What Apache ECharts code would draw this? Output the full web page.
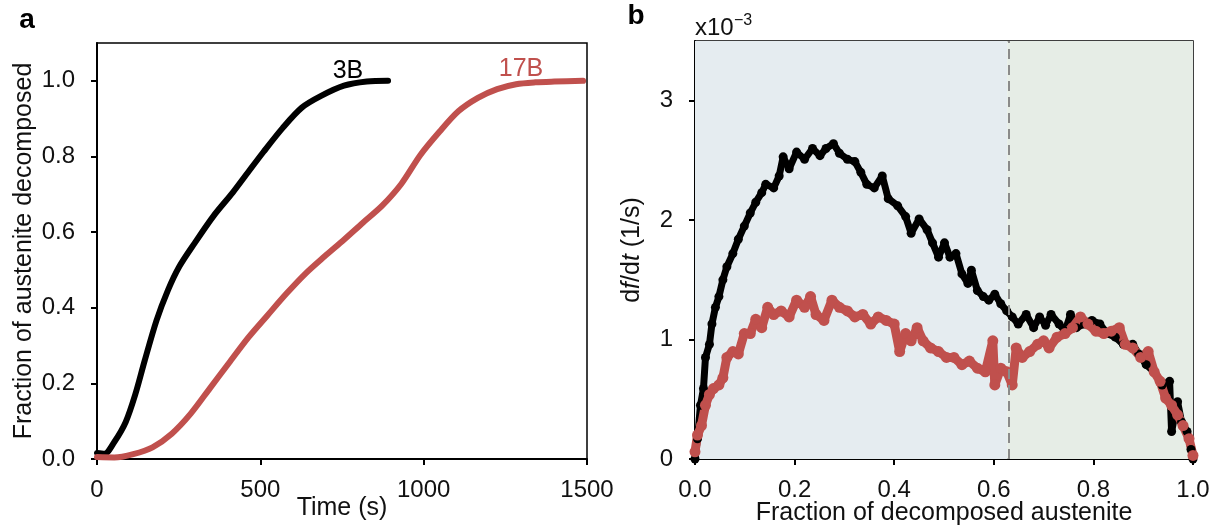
<!DOCTYPE html>
<html>
<head>
<meta charset="utf-8">
<script src="https://cdn.jsdelivr.net/npm/echarts@6/dist/echarts.min.js"></script>
<style>
  html, body { margin: 0; padding: 0; background: #fff; }
  #chart { width: 1219px; height: 529px; }
</style>
</head>
<body>
<div id="chart"></div>
<script>
// panel a: fraction of austenite decomposed vs time
const time3B = [0, 23, 53, 88, 117, 146, 182, 217, 252, 299, 357, 416, 463, 510, 568, 627, 686, 756, 826, 891];
const frac3B = [0.016, 0.014, 0.045, 0.098, 0.17, 0.26, 0.366, 0.446, 0.509, 0.571, 0.643, 0.705, 0.759, 0.8125, 0.875, 0.929, 0.96, 0.987, 0.998, 1.0];
const time17B = [0, 53, 111, 170, 229, 287, 346, 404, 463, 521, 580, 639, 697, 756, 814, 873, 932, 990, 1049, 1107, 1166, 1225, 1283, 1342, 1400, 1488];
const frac17B = [0.005, 0.004, 0.013, 0.031, 0.067, 0.12, 0.1875, 0.254, 0.321, 0.379, 0.4375, 0.491, 0.536, 0.58, 0.625, 0.67, 0.728, 0.804, 0.866, 0.92, 0.955, 0.978, 0.991, 0.996, 0.998, 1.0];

// panel b: df/dt (x10^-3 1/s) vs fraction decomposed
const fB3 = [0, 0.005, 0.011, 0.017, 0.021, 0.029, 0.034, 0.041, 0.048, 0.056, 0.064, 0.076, 0.087, 0.099, 0.111, 0.122, 0.134, 0.142, 0.158, 0.169, 0.177, 0.189, 0.204, 0.22, 0.236, 0.251, 0.263, 0.278, 0.29, 0.306, 0.321, 0.333, 0.345, 0.36, 0.376, 0.388, 0.407, 0.423, 0.434, 0.45, 0.466, 0.477, 0.489, 0.501, 0.512, 0.524, 0.536, 0.548, 0.555, 0.567, 0.579, 0.59, 0.602, 0.614, 0.626, 0.637, 0.649, 0.665, 0.68, 0.692, 0.704, 0.715, 0.731, 0.743, 0.754, 0.766, 0.782, 0.797, 0.813, 0.828, 0.844, 0.86, 0.879, 0.891, 0.906, 0.922, 0.938, 0.953, 0.957, 0.969, 0.977, 0.988, 0.996, 1.0];
const rate3B = [0, 0.17, 0.45, 0.59, 0.85, 0.96, 1.13, 1.27, 1.36, 1.5, 1.61, 1.72, 1.84, 1.95, 2.06, 2.15, 2.23, 2.3, 2.27, 2.37, 2.53, 2.43, 2.57, 2.51, 2.6, 2.54, 2.6, 2.64, 2.56, 2.51, 2.49, 2.4, 2.3, 2.27, 2.37, 2.18, 2.12, 2.03, 1.89, 2.01, 1.92, 1.81, 1.69, 1.81, 1.69, 1.72, 1.55, 1.47, 1.58, 1.41, 1.36, 1.33, 1.38, 1.3, 1.24, 1.19, 1.13, 1.21, 1.1, 1.19, 1.12, 1.21, 1.13, 1.07, 1.21, 1.1, 1.13, 1.16, 1.13, 1.05, 1.02, 0.96, 0.96, 0.88, 0.79, 0.73, 0.62, 0.65, 0.23, 0.48, 0.31, 0.23, 0.08, 0];
const fB17 = [0, 0.005, 0.013, 0.021, 0.029, 0.037, 0.048, 0.056, 0.064, 0.076, 0.087, 0.099, 0.111, 0.122, 0.134, 0.146, 0.158, 0.173, 0.189, 0.204, 0.22, 0.232, 0.243, 0.259, 0.275, 0.29, 0.306, 0.321, 0.337, 0.353, 0.368, 0.384, 0.4, 0.411, 0.423, 0.434, 0.446, 0.458, 0.473, 0.489, 0.505, 0.52, 0.536, 0.551, 0.567, 0.583, 0.598, 0.602, 0.614, 0.626, 0.637, 0.645, 0.657, 0.672, 0.688, 0.7, 0.711, 0.727, 0.743, 0.758, 0.774, 0.789, 0.805, 0.821, 0.836, 0.852, 0.864, 0.879, 0.895, 0.91, 0.922, 0.934, 0.945, 0.957, 0.969, 0.98, 0.992, 1.0];
const rate17B = [0.06, 0.2, 0.28, 0.45, 0.54, 0.59, 0.62, 0.68, 0.85, 0.9, 0.88, 1.05, 1.05, 1.17, 1.1, 1.27, 1.21, 1.24, 1.19, 1.33, 1.27, 1.36, 1.21, 1.16, 1.33, 1.27, 1.24, 1.19, 1.21, 1.13, 1.19, 1.16, 1.13, 0.9, 1.05, 0.99, 1.1, 0.99, 0.93, 0.9, 0.85, 0.85, 0.79, 0.82, 0.76, 0.73, 0.99, 0.62, 0.76, 0.73, 0.62, 0.93, 0.85, 0.9, 0.96, 0.99, 0.93, 1.02, 1.05, 1.1, 1.19, 1.13, 1.07, 1.05, 1.07, 1.1, 0.96, 0.93, 0.85, 0.9, 0.73, 0.65, 0.51, 0.45, 0.37, 0.28, 0.17, 0.03];

const timeTicks = [0, 500, 1000, 1500];
const fracTicks = [0, 0.2, 0.4, 0.6, 0.8, 1.0];
const decompTicks = [0, 0.2, 0.4, 0.6, 0.8, 1.0];
const rateTicks = [0, 1, 2, 3];
const phaseBoundary = 0.627;

const FONT = "Liberation Sans, Arial, sans-serif";
const RED = "#c0504d";
const zip = (xs, ys) => xs.map((x, i) => [x, ys[i]]);

const chart = echarts.init(document.getElementById("chart"));

const axisCommon = {
  axisLine: { lineStyle: { color: "#000", width: 2 } },
  axisTick: { inside: false, length: 6, lineStyle: { color: "#000", width: 2 } },
  splitLine: { show: false },
  nameLocation: "middle",
  nameMoveOverlap: false,
  nameTextStyle: { fontFamily: FONT, fontSize: 25, color: "#111" },
};
const labelCommon = { fontFamily: FONT, fontSize: 24, color: "#111" };

function txt(x, y, text, size, color, weight) {
  return {
    type: "text", x: x, y: y, silent: true,
    style: { text: text, fontFamily: FONT, fontSize: size, fill: color || "#111",
      fontWeight: weight || "normal", align: "center", verticalAlign: "middle" },
  };
}

const option = {
  animation: false,
  grid: [
    { left: 97, top: 43, width: 490, height: 416, show: true, borderColor: "#000", borderWidth: 1.5, outerBoundsMode: "none" },
    { left: 695, top: 41, width: 498, height: 418, show: true, borderColor: "#000", borderWidth: 1.5, outerBoundsMode: "none" },
  ],
  xAxis: [
    Object.assign({}, axisCommon, {
      gridIndex: 0, type: "value", min: 0, max: 1500,
      name: "Time (s)", nameGap: 37,
      axisTick: Object.assign({}, axisCommon.axisTick, { customValues: timeTicks }),
      axisLabel: Object.assign({ margin: 19, customValues: timeTicks, formatter: (v) => String(v) }, labelCommon),
    }),
    Object.assign({}, axisCommon, {
      gridIndex: 1, type: "value", min: 0, max: 1,
      name: "Fraction of decomposed austenite", nameGap: 42,
      axisTick: Object.assign({}, axisCommon.axisTick, { customValues: decompTicks }),
      axisLabel: Object.assign({ margin: 19, customValues: decompTicks, formatter: (v) => v.toFixed(1) }, labelCommon),
    }),
  ],
  yAxis: [
    Object.assign({}, axisCommon, {
      gridIndex: 0, type: "value", min: 0, max: 1.1,
      name: "Fraction of austenite decomposed", nameGap: 60,
      axisTick: Object.assign({}, axisCommon.axisTick, { customValues: fracTicks }),
      axisLabel: Object.assign({ margin: 22, customValues: fracTicks, formatter: (v) => v.toFixed(1) }, labelCommon),
    }),
    Object.assign({}, axisCommon, {
      gridIndex: 1, type: "value", min: 0, max: 3.5,
      name: "{n|d}{i|f}{n|/d}{i|t}{n| (1/s)}", nameGap: 50,
      nameTextStyle: {
        fontFamily: FONT, fontSize: 25, color: "#111",
        rich: {
          n: { fontFamily: FONT, fontSize: 25, color: "#111" },
          i: { fontFamily: FONT, fontSize: 25, color: "#111", fontStyle: "italic" },
        },
      },
      axisTick: Object.assign({}, axisCommon.axisTick, { customValues: rateTicks }),
      axisLabel: Object.assign({ margin: 22, customValues: rateTicks }, labelCommon),
    }),
  ],
  series: [
    {
      name: "3B", type: "line", xAxisIndex: 0, yAxisIndex: 0, smooth: 0.3,
      showSymbol: false, lineStyle: { color: "#000", width: 6, cap: "round" },
      data: zip(time3B, frac3B),
    },
    {
      name: "17B", type: "line", xAxisIndex: 0, yAxisIndex: 0, smooth: 0.3,
      showSymbol: false, lineStyle: { color: RED, width: 6, cap: "round" },
      data: zip(time17B, frac17B),
    },
    {
      name: "3B rate", type: "line", xAxisIndex: 1, yAxisIndex: 1,
      symbol: "circle", symbolSize: 9, showAllSymbol: true,
      itemStyle: { color: "#000" }, lineStyle: { color: "#000", width: 7, join: "round" },
      data: zip(fB3, rate3B),
      markArea: {
        silent: true,
        data: [
          [{ xAxis: 0, itemStyle: { color: "#e5ecf0" } }, { xAxis: phaseBoundary }],
          [{ xAxis: phaseBoundary, itemStyle: { color: "#e6ede6" } }, { xAxis: 1 }],
        ],
      },
      markLine: {
        silent: true, symbol: "none", label: { show: false },
        lineStyle: { color: "#8a8a8a", type: [10, 6], width: 2 },
        data: [{ xAxis: phaseBoundary }],
      },
    },
    {
      name: "17B rate", type: "line", xAxisIndex: 1, yAxisIndex: 1,
      symbol: "circle", symbolSize: 11, showAllSymbol: true,
      itemStyle: { color: RED }, lineStyle: { color: RED, width: 9, join: "round" },
      data: zip(fB17, rate17B),
    },
  ],
  graphic: [
    txt(27, 20, "a", 28, "#000", "bold"),
    txt(636, 16, "b", 28, "#000", "bold"),
    { type: "text", x: 695, y: 28, silent: true,
      style: { text: "x10", fontFamily: FONT, fontSize: 24, fill: "#111", align: "left", verticalAlign: "middle" } },
    { type: "text", x: 734, y: 21, silent: true,
      style: { text: "\u22123", fontFamily: FONT, fontSize: 16, fill: "#111", align: "left", verticalAlign: "middle" } },
    txt(348, 71, "3B", 25, "#000"),
    txt(521, 69, "17B", 25, RED),
    txt(821, 208, "3B", 25, "#000"),
    txt(817, 361, "17B", 25, RED),
    txt(870, 68, "Ferrite", 25, "#111"),
    txt(1099, 68, "Pearlite", 25, "#111"),
  ],
};

chart.setOption(option);
</script>
</body>
</html>
